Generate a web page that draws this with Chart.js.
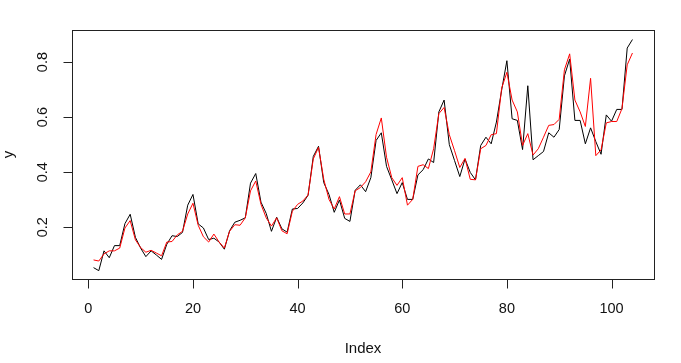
<!DOCTYPE html>
<html>
<head>
<meta charset="utf-8">
<script src="https://cdn.jsdelivr.net/npm/chart.js@4/dist/chart.umd.min.js"></script>
<style>
html,body{margin:0;padding:0;background:#fff;}
#wrap{width:681px;height:363px;position:relative;}
</style>
</head>
<body>
<div id="wrap"><canvas id="c" width="681" height="363"></canvas></div>
<script>
// Index 1..104
const indexValues = Array.from({length: 104}, (_, i) => i + 1);

// observed series (black)
const observed = [
0.053,0.042,0.114,0.089,0.133,0.133,0.213,0.247,0.163,0.124,
0.093,0.114,0.099,0.083,0.138,0.169,0.166,0.181,0.280,0.319,
0.212,0.197,0.155,0.160,0.146,0.120,0.187,0.218,0.225,0.234,
0.360,0.395,0.291,0.250,0.185,0.236,0.194,0.182,0.266,0.268,
0.288,0.316,0.457,0.494,0.362,0.319,0.254,0.299,0.232,0.221,
0.334,0.354,0.329,0.380,0.515,0.543,0.421,0.372,0.322,0.362,
0.301,0.301,0.390,0.409,0.448,0.435,0.619,0.662,0.500,0.442,
0.384,0.448,0.399,0.372,0.497,0.527,0.503,0.582,0.698,0.805,
0.594,0.588,0.482,0.714,0.445,0.460,0.475,0.543,0.527,0.555,
0.750,0.811,0.588,0.588,0.503,0.561,0.511,0.465,0.608,0.585,
0.628,0.628,0.851,0.882
];

// fitted series (red)
const fitted = [
0.081,0.077,0.103,0.114,0.114,0.124,0.197,0.224,0.154,0.126,
0.109,0.116,0.106,0.096,0.146,0.148,0.172,0.185,0.248,0.287,
0.207,0.165,0.146,0.175,0.146,0.124,0.185,0.209,0.207,0.234,
0.332,0.368,0.283,0.234,0.204,0.234,0.187,0.176,0.258,0.283,
0.295,0.317,0.448,0.490,0.374,0.301,0.266,0.311,0.248,0.248,
0.332,0.344,0.365,0.401,0.537,0.597,0.454,0.380,0.352,0.380,
0.280,0.301,0.421,0.427,0.413,0.485,0.613,0.635,0.536,0.478,
0.417,0.450,0.374,0.372,0.485,0.497,0.536,0.540,0.705,0.763,
0.662,0.619,0.497,0.540,0.462,0.485,0.527,0.570,0.573,0.592,
0.772,0.830,0.662,0.619,0.566,0.741,0.460,0.481,0.579,0.584,
0.584,0.631,0.790,0.833
];

const xTicks = [0, 20, 40, 60, 80, 100];
const yTicks = [0.2, 0.4, 0.6, 0.8];
const xTitle = "Index";
const yTitle = "y";

const toPoints = arr => arr.map((v, i) => ({x: indexValues[i], y: v}));

const FONT = '14.5px "Liberation Sans", Arial, sans-serif';
const TITLE_FONT = '15px "Liberation Sans", Arial, sans-serif';

const rAxes = {
  id: 'rAxes',
  afterDraw(chart) {
    const ctx = chart.ctx;
    const a = chart.chartArea;
    const xs = chart.scales.x, ys = chart.scales.y;
    ctx.save();
    ctx.strokeStyle = '#222';
    ctx.lineWidth = 1;
    // box
    ctx.strokeRect(Math.round(a.left) + 0.5, Math.round(a.top) + 0.5,
                   Math.round(a.right - a.left), Math.round(a.bottom - a.top));
    ctx.fillStyle = '#111';
    ctx.font = FONT;
    // x ticks
    const bottom = Math.round(a.bottom) + 0.5;
    ctx.textAlign = 'center';
    ctx.textBaseline = 'middle';
    ctx.beginPath();
    xTicks.forEach(t => {
      const px = Math.round(xs.getPixelForValue(t)) + 0.5;
      ctx.moveTo(px, bottom);
      ctx.lineTo(px, bottom + 9);
    });
    ctx.stroke();
    xTicks.forEach(t => {
      const px = xs.getPixelForValue(t);
      ctx.fillText(String(t), px, 309);
    });
    // y ticks
    const left = Math.round(a.left) + 0.5;
    ctx.beginPath();
    yTicks.forEach(t => {
      const py = Math.round(ys.getPixelForValue(t)) + 0.5;
      ctx.moveTo(left, py);
      ctx.lineTo(left - 9, py);
    });
    ctx.stroke();
    yTicks.forEach(t => {
      const py = ys.getPixelForValue(t);
      ctx.save();
      ctx.translate(43, py);
      ctx.rotate(-Math.PI / 2);
      ctx.fillText(t.toFixed(1), 0, 0);
      ctx.restore();
    });
    // titles
    ctx.font = TITLE_FONT;
    ctx.fillText(xTitle, (a.left + a.right) / 2, 349);
    ctx.save();
    ctx.translate(9, (a.top + a.bottom) / 2);
    ctx.rotate(-Math.PI / 2);
    ctx.fillText(yTitle, 0, 0);
    ctx.restore();
    ctx.restore();
  }
};

new Chart(document.getElementById('c'), {
  type: 'scatter',
  data: {
    datasets: [
      {label: 'y', data: toPoints(observed), showLine: true, borderColor: '#000000',
       borderWidth: 1, pointRadius: 0, tension: 0, order: 1},
      {label: 'fitted', data: toPoints(fitted), showLine: true, borderColor: '#ff0000',
       borderWidth: 1, pointRadius: 0, tension: 0, order: 0}
    ]
  },
  options: {
    responsive: false,
    animation: false,
    devicePixelRatio: 1,
    layout: {padding: {left: 72, top: 30, right: 27, bottom: 84}},
    plugins: {legend: {display: false}, tooltip: {enabled: false}},
    scales: {
      x: {type: 'linear', min: -3.12, max: 108.12, display: false},
      y: {type: 'linear', min: 0.0117, max: 0.9166, display: false}
    }
  },
  plugins: [rAxes]
});
</script>
</body>
</html>
